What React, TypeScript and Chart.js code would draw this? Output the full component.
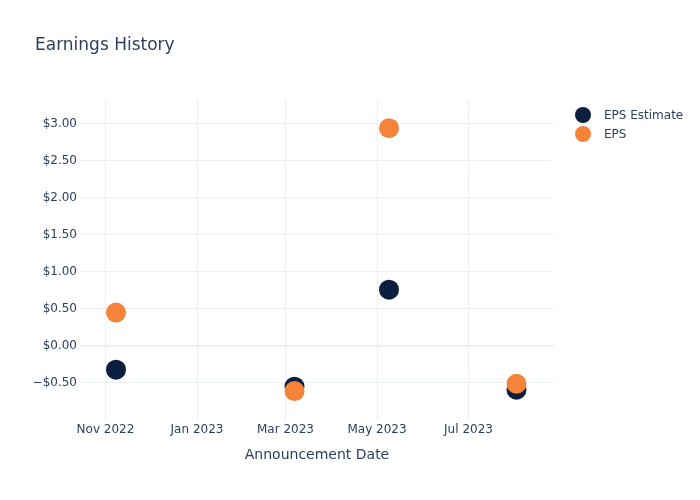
import React, { useEffect, useRef } from "react";
import { Chart, registerables } from "chart.js";

Chart.register(...registerables);

const announcementDates = ["2022-11-08", "2023-03-07", "2023-05-09", "2023-08-02"];
const epsEstimate = [-0.32, -0.55, 0.76, -0.59];
const epsActual = [0.45, -0.61, 2.94, -0.51];
const xTickDates = ["2022-11-01", "2023-01-01", "2023-03-01", "2023-05-01", "2023-07-01"];
const xTickLabels = ["Nov 2022", "Jan 2023", "Mar 2023", "May 2023", "Jul 2023"];
const yTickValues = [-0.5, 0, 0.5, 1, 1.5, 2, 2.5, 3];
const xRange = ["2022-10-15", "2023-08-27"];
const yRange = [-1.0, 3.32];

const TEXT = "#2a3f5f";
const FONT = "'DejaVu Sans', Verdana, sans-serif";
const NAVY = "#0d1f40";
const ORANGE = "#f5843a";

const ts = (s: string) => Date.parse(s + "T00:00:00Z");

function fmtMoney(v: number) {
  const a = Math.abs(v).toFixed(2);
  return (v < 0 ? "\u2212$" : "$") + a;
}

export default function App() {
  const ref = useRef<HTMLCanvasElement | null>(null);
  useEffect(() => {
    if (!ref.current) return;
    const chart = new Chart(ref.current, {
      type: "scatter",
      data: {
        datasets: [
          {
            label: "EPS Estimate",
            data: announcementDates.map((d, i) => ({ x: ts(d), y: epsEstimate[i] })),
            backgroundColor: NAVY,
            borderColor: NAVY,
            pointRadius: 10,
            pointHoverRadius: 10,
            borderWidth: 0,
            order: 1,
          },
          {
            label: "EPS",
            data: announcementDates.map((d, i) => ({ x: ts(d), y: epsActual[i] })),
            backgroundColor: ORANGE,
            borderColor: ORANGE,
            pointRadius: 10,
            pointHoverRadius: 10,
            borderWidth: 0,
            order: 0,
          },
        ],
      },
      options: {
        animation: false,
        responsive: false,
        layout: { padding: { top: 100, right: 146, bottom: 30, left: 0 } },
        plugins: {
          legend: { display: false },
          title: { display: false },
          tooltip: { enabled: false },
        },
        scales: {
          x: {
            type: "linear",
            min: ts(xRange[0]),
            max: ts(xRange[1]),
            afterBuildTicks: (scale: any) => {
              scale.ticks = xTickDates.map((d) => ({ value: ts(d) }));
            },
            afterFit: (scale: any) => {
              scale.height = 50;
            },
            ticks: {
              callback: (value: any) => {
                const i = xTickDates.findIndex((d) => ts(d) === value);
                return i >= 0 ? xTickLabels[i] : "";
              },
              color: TEXT,
              font: { family: FONT, size: 12 },
              padding: 3,
              maxRotation: 0,
              autoSkip: false,
            },
            grid: { color: "#ebf0f8", lineWidth: 1, drawTicks: false },
            border: { display: false },
            title: {
              display: true,
              text: "Announcement Date",
              color: TEXT,
              font: { family: FONT, size: 14 },
              padding: { top: 0, bottom: 6 },
            },
          },
          y: {
            type: "linear",
            min: yRange[0],
            max: yRange[1],
            afterBuildTicks: (scale: any) => {
              scale.ticks = yTickValues.map((v) => ({ value: v }));
            },
            afterFit: (scale: any) => {
              scale.width = 80;
            },
            ticks: {
              callback: (value: any) => fmtMoney(Number(value)),
              color: TEXT,
              font: { family: FONT, size: 12 },
              padding: 3,
              autoSkip: false,
            },
            grid: {
              color: "#ebf0f8",
              lineWidth: (ctx: any) => (ctx.tick && ctx.tick.value === 0 ? 2 : 1),
              drawTicks: false,
            },
            border: { display: false },
          },
        },
      },
    } as any);
    return () => chart.destroy();
  }, []);

  const legendItems = [
    { label: "EPS Estimate", color: NAVY },
    { label: "EPS", color: ORANGE },
  ];

  return (
    <div style={{ position: "absolute", left: 0, top: 0, width: 700, height: 500, background: "#fff", fontFamily: FONT }}>
      <canvas ref={ref} width={700} height={500} style={{ position: "absolute", left: 0, top: 0, width: 700, height: 500 }} />
      <div style={{ position: "absolute", left: 35, top: 33, fontSize: 17, color: TEXT, lineHeight: "22px", whiteSpace: "nowrap" }}>
        Earnings History
      </div>
      {legendItems.map((it, i) => (
        <div key={it.label} style={{ position: "absolute", left: 575, top: 106 + i * 19, height: 18, display: "flex", alignItems: "center", whiteSpace: "nowrap" }}>
          <span style={{ display: "inline-block", width: 16, height: 16, borderRadius: 8, background: it.color }} />
          <span style={{ marginLeft: 13, fontSize: 12, color: TEXT }}>{it.label}</span>
        </div>
      ))}
    </div>
  );
}
